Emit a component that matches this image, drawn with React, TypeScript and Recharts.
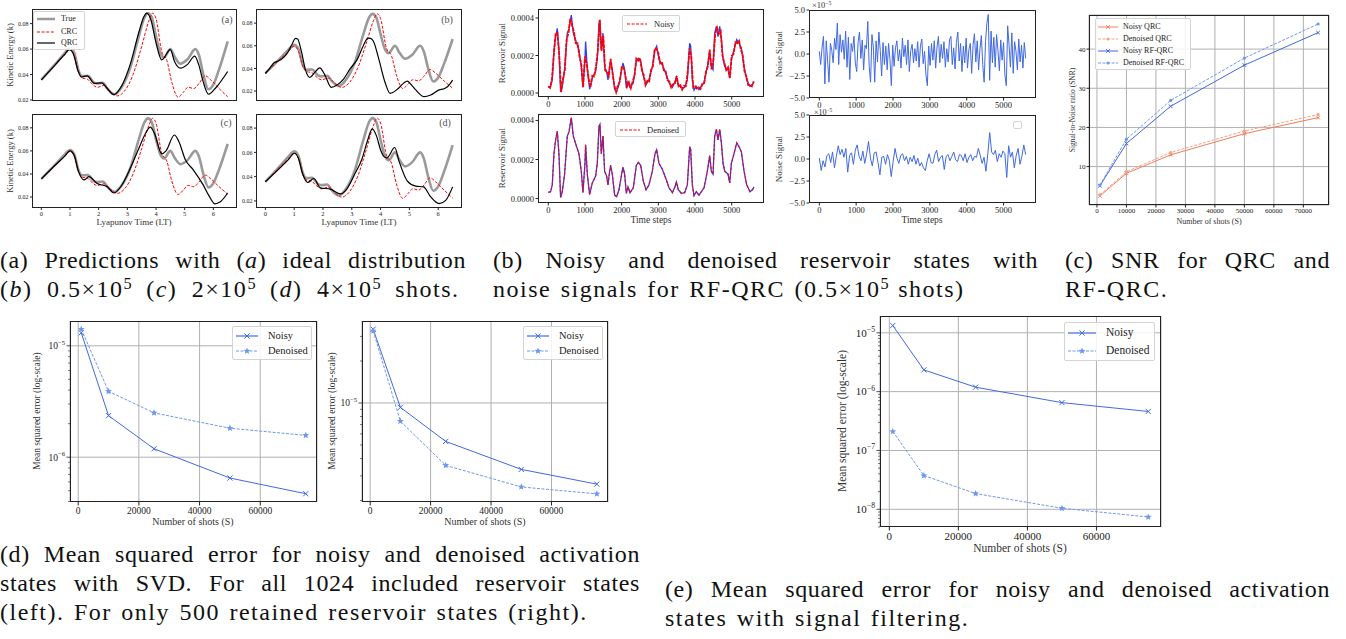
import React from 'react';
import { LineChart, Line, XAxis, YAxis, CartesianGrid, ReferenceLine } from 'recharts';

const SERIF = '"Liberation Serif", "Times New Roman", serif';

// ---------- (a) Kinetic energy predictions: [Lyapunov time, k] ----------
const TRUE_KE: [number, number][] = [
  [0, 0.0358], [0.5, 0.0485], [0.8, 0.0565], [1.0, 0.0608], [1.15, 0.057], [1.3, 0.043], [1.42, 0.0388],
  [1.62, 0.039], [1.85, 0.0335], [1.95, 0.033], [2.15, 0.0335], [2.3, 0.029], [2.55, 0.0245], [2.8, 0.03],
  [3.1, 0.045], [3.4, 0.07], [3.6, 0.085], [3.72, 0.0882], [3.85, 0.085], [4.0, 0.07], [4.15, 0.057],
  [4.28, 0.0535], [4.5, 0.06], [4.65, 0.054], [4.85, 0.0485], [5.1, 0.052], [5.37, 0.06], [5.5, 0.055],
  [5.65, 0.04], [5.83, 0.0284], [6.0, 0.032], [6.2, 0.044], [6.5, 0.066],
];
const CRC_KE: [number, number][] = [
  [0, 0.0358], [0.5, 0.048], [0.8, 0.055], [1.0, 0.0595], [1.15, 0.055], [1.3, 0.042], [1.45, 0.037],
  [1.6, 0.0365], [1.75, 0.033], [1.95, 0.03], [2.2, 0.0315], [2.4, 0.027], [2.65, 0.0232], [2.9, 0.027],
  [3.2, 0.04], [3.5, 0.062], [3.75, 0.082], [3.88, 0.0882], [4.0, 0.084], [4.2, 0.058], [4.38, 0.051],
  [4.55, 0.034], [4.77, 0.0222], [4.95, 0.026], [5.12, 0.03], [5.32, 0.029], [5.5, 0.033], [5.72, 0.039],
  [5.9, 0.036], [6.2, 0.029], [6.5, 0.0225],
];
const QRC_A: [number, number][] = [
  [0, 0.0358], [0.5, 0.048], [0.8, 0.0555], [0.98, 0.0595], [1.12, 0.056], [1.28, 0.043], [1.4, 0.038],
  [1.6, 0.039], [1.85, 0.033], [2.1, 0.0335], [2.3, 0.029], [2.52, 0.0242], [2.8, 0.031], [3.1, 0.048],
  [3.4, 0.073], [3.57, 0.085], [3.68, 0.0882], [3.82, 0.083], [4.0, 0.065], [4.2, 0.0515], [4.5, 0.0595],
  [4.65, 0.05], [4.85, 0.045], [5.1, 0.048], [5.35, 0.0545], [5.5, 0.047], [5.65, 0.034], [5.83, 0.0245],
  [6.1, 0.03], [6.5, 0.0424],
];
const QRC_B: [number, number][] = [
  [0, 0.0355], [0.15, 0.04], [0.3, 0.045], [0.45, 0.0465], [0.6, 0.049], [0.75, 0.053], [0.9, 0.06],
  [1.05, 0.0665], [1.12, 0.066], [1.25, 0.055], [1.4, 0.038], [1.54, 0.032], [1.7, 0.036], [1.89, 0.0405],
  [2.05, 0.035], [2.29, 0.0232], [2.5, 0.0255], [2.7, 0.03], [2.95, 0.04], [3.19, 0.048], [3.4, 0.06],
  [3.56, 0.0668], [3.65, 0.0665], [3.75, 0.064], [3.94, 0.048], [4.15, 0.028], [4.33, 0.018], [4.58, 0.0215],
  [4.8, 0.027], [4.93, 0.0288], [5.05, 0.026], [5.22, 0.021], [5.51, 0.015], [5.74, 0.0165], [6.03, 0.021],
  [6.2, 0.022], [6.32, 0.0238], [6.5, 0.0297],
];
const QRC_C: [number, number][] = [
  [0, 0.0357], [0.5, 0.048], [0.8, 0.055], [1.0, 0.06], [1.15, 0.056], [1.3, 0.042], [1.49, 0.0348],
  [1.66, 0.0377], [1.95, 0.0318], [2.3, 0.0289], [2.53, 0.0235], [2.8, 0.03], [3.05, 0.042], [3.4, 0.062],
  [3.65, 0.076], [3.8, 0.0806], [3.95, 0.075], [4.2, 0.0575], [4.35, 0.06], [4.64, 0.0738], [4.8, 0.068],
  [5.02, 0.0525], [5.3, 0.0436], [5.65, 0.0303], [5.85, 0.021], [6.06, 0.0141], [6.23, 0.0156], [6.5, 0.0235],
];
const QRC_D: [number, number][] = [
  [0, 0.0358], [0.5, 0.047], [0.8, 0.054], [1.01, 0.0593], [1.15, 0.055], [1.3, 0.042], [1.47, 0.0352],
  [1.68, 0.0385], [1.91, 0.0308], [2.26, 0.0297], [2.61, 0.0258], [2.8, 0.029], [3.1, 0.042], [3.36, 0.055],
  [3.55, 0.07], [3.71, 0.0794], [3.85, 0.074], [4.0, 0.062], [4.12, 0.0565], [4.22, 0.0555], [4.49, 0.064],
  [4.65, 0.052], [4.93, 0.0363], [5.22, 0.0322], [5.49, 0.0316], [5.74, 0.0233], [6.03, 0.0178], [6.26, 0.0205],
  [6.5, 0.0316],
];
const LT_TICKS = [0, 1, 2, 3, 4, 5, 6];
const KE_TICKS = [0.02, 0.04, 0.06, 0.08];

// ---------- (b) reservoir signal (units of 1e-4) and noise (units of 1e-5) ----------
const RES_CLEAN: [number, number][] = [
  [0, 0.32], [64, 0.35], [109, 0.7], [155, 2.3], [200, 3.0], [245, 3.45], [291, 2.3], [336, 0.05], [382, 0.35],
  [445, 1.25], [518, 3.2], [564, 3.4], [627, 4.15], [682, 3.2], [773, 2.65], [836, 2.3], [900, 1.4], [945, 0.3],
  [1000, 1.8], [1018, 2.75], [1064, 1.25], [1127, 0.2], [1200, 0.8], [1291, 1.15], [1336, 1.8], [1382, 3.7],
  [1409, 3.8], [1445, 2.3], [1491, 3.2], [1536, 1.4], [1591, 1.15], [1627, 0.7], [1673, 1.4], [1700, 1.7],
  [1745, 1.25], [1809, 0.18], [1864, 0.1], [1927, 0.45], [2000, 1.25], [2036, 1.6], [2082, 1.25], [2127, 0.27],
  [2173, 0.6], [2227, 0.3], [2318, 0.55], [2400, 1.7], [2454, 1.85], [2518, 1.7], [2591, 0.9], [2664, 0.45],
  [2745, 0.7], [2836, 1.4], [2909, 2.3], [2954, 2.5], [3018, 1.8], [3109, 1.5], [3200, 1.05], [3291, 0.55],
  [3382, 0.3], [3454, 0.6], [3491, 0.85], [3545, 0.45], [3627, 0.27], [3718, 0.3], [3791, 0.7], [3854, 2.65],
  [3882, 2.5], [3927, 0.7], [3973, 0.15], [4036, 0.35], [4109, 0.18], [4245, 0.55], [4336, 1.4], [4400, 2.2],
  [4445, 1.4], [4491, 1.25], [4536, 3.2], [4582, 3.55], [4627, 3.0], [4673, 3.55], [4718, 2.85], [4764, 1.8],
  [4809, 1.4], [4900, 1.25], [4945, 0.8], [4991, 1.8], [5063, 2.3], [5136, 2.85], [5200, 2.65], [5263, 2.4],
  [5336, 1.4], [5409, 0.7], [5500, 0.35], [5563, 0.45], [5609, 0.6],
];
const RES_NOISY_STEP = 50;
const RES_NOISY = [
  0.36, 0.28, 0.75, 2.0, 3.15, 3.2, 1.98, 0.05, 0.72, 1.22,
  2.85, 3.2, 3.98, 3.6, 3.25, 2.65, 2.66, 1.95, 1.55, 0.32,
  1.95, 1.55, 0.78, 0.3, 0.92, 0.88, 1.42, 2.25, 3.9, 2.25,
  3.05, 1.22, 1.12, 0.92, 1.82, 1.08, 0.4, 0.05, 0.42, 0.6,
  1.38, 1.38, 0.97, 0.35, 0.56, 0.26, 0.62, 0.9, 1.83, 1.72,
  1.86, 1.22, 0.97, 0.42, 0.66, 0.62, 1.22, 1.42, 2.35, 2.36,
  2.12, 1.58, 1.65, 1.2, 1.15, 0.68, 0.62, 0.3, 0.47, 0.49,
  0.9, 0.36, 0.42, 0.18, 0.38, 0.36, 1.12, 2.38, 1.92, 0.3,
  0.36, 0.24, 0.3, 0.22, 0.5, 0.53, 1.15, 1.43, 2.32, 1.26,
  1.77, 3.15, 3.48, 3.15, 3.3, 1.98, 1.6, 1.22, 1.37, 0.8,
  1.98, 2.08, 2.7, 2.66, 2.78, 2.32, 2.02, 1.14, 0.88, 0.42,
  0.43, 0.36, 0.62,
];
const STEPS_END = 5600;
const NOISE_NOISY = [
  0.3, -1.2, 0.8, 2.0, -3.4, 1.5, -0.8, -3.2, 1.2, 0.4,
  -1.0, 1.8, 0.5, 3.5, -1.2, 2.2, 0.2, 1.6, -0.6, 2.6,
  -1.5, 1.9, -2.9, 1.2, 0.3, 2.0, -1.0, -2.0, 1.4, 2.5,
  -0.5, 1.6, -1.8, 1.0, 0.6, 3.7, -1.4, -3.2, 2.2, 0.8,
  -3.2, 1.5, -0.9, 2.5, 0.4, -2.5, 1.3, -1.2, 0.9, -1.8,
  1.2, -0.6, -3.6, 1.0, -1.4, 0.7, 1.5, -0.8, 0.5, -1.6,
  1.8, -0.3, 1.0, -1.2, 1.6, -2.0, 0.4, 1.1, -1.0, 0.6,
  -0.8, 1.4, -1.5, 0.9, 1.7, -1.1, 0.3, -2.4, -3.6, 0.9,
  -1.3, 1.2, -0.7, 1.5, -1.6, 0.8, 2.0, -1.0, 1.1, -0.5,
  1.4, -1.5, 0.6, -0.9, 1.6, 2.0, -1.2, 0.7, -1.7, 1.3,
  2.5, -0.8, 1.2, -2.0, 0.9, -1.0, 1.8, -1.6, 0.5, 1.2,
  -2.2, 1.0, 2.3, -0.9, 1.5, -1.8, 0.6, 2.1, -1.2, -3.2,
  1.4, 3.5, 4.5, -3.0, 2.6, -1.0, 1.9, -1.5, 2.2, 0.4,
  -1.9, 1.6, -0.7, 1.3, -2.4, -3.6, 3.2, 1.0, -1.5, 2.4,
  -2.2, 1.4, 0.3, -1.8, 1.7, -0.9, 1.0, -1.6, 1.3, -0.5,
];
const NOISE_DENOISED = [
  0.1, -1.3, -0.2, -0.9, 0.4, 0.6, -0.4, 0.8, -1.0, 0.3,
  1.5, 0.5, 1.1, 0.2, 1.2, -1.5, 0.4, 0.7, -0.6, 1.0,
  1.6, 0.3, -0.2, 0.9, -0.5, 0.6, 2.0, 0.1, -0.8, 0.7,
  0.8, -0.4, -1.8, 0.2, 0.3, -0.6, 0.5, -0.2, -2.0, -0.3,
  1.2, 0.1, -0.5, 0.4, 0.6, -0.2, 0.3, -0.6, 0.2, -0.3,
  0.4, -0.6, 0.1, -0.8, -0.4, -1.0, -1.3, -0.2, 0.6, -0.4,
  -0.5, 0.5, 1.0, -0.3, 0.2, 0.4, -1.2, 0.3, 0.5, -0.2,
  0.3, 0.8, -0.1, -0.3, 0.5, 0.4, -0.2, 0.6, -0.4, 0.2,
  0.5, -0.2, 0.3, 0.2, 1.2, 0.4, -0.5, 0.2, -1.4, 0.6,
  3.0, 0.8, 0.5, 1.0, -0.3, 0.6, 0.2, 0.9, 0.6, -2.1,
  1.5, 0.2, 0.8, -1.0, 0.4, 1.2, -0.6, 0.3, 1.6, 0.5,
];
const STEP_TICKS = [0, 1000, 2000, 3000, 4000, 5000];

// ---------- (c) SNR ----------
const SHOTS = [1000, 10000, 25000, 50000, 75000];
const SNR_NOISY_QRC = [2.5, 8.3, 13.0, 18.4, 22.5];
const SNR_DENOISED_QRC = [2.8, 8.7, 13.6, 19.1, 23.3];
const SNR_NOISY_RF = [5.1, 15.9, 25.4, 35.9, 44.2];
const SNR_DENOISED_RF = [5.3, 17.0, 26.9, 37.7, 46.4];
const SHOT_TICKS_C = [0, 10000, 20000, 30000, 40000, 50000, 60000, 70000];
const SNR_TICKS = [10, 20, 30, 40];

// ---------- (d), (e) MSE ----------
const MSE_SVD_ALL_NOISY = [1.31e-5, 2.36e-6, 1.19e-6, 6.5e-7, 4.7e-7];
const MSE_SVD_ALL_DENOISED = [1.41e-5, 3.9e-6, 2.5e-6, 1.82e-6, 1.57e-6];
const MSE_SVD_500_NOISY = [3.38e-5, 9.3e-6, 5.3e-6, 3.34e-6, 2.62e-6];
const MSE_SVD_500_DENOISED = [3.29e-5, 7.4e-6, 3.57e-6, 2.5e-6, 2.23e-6];
const MSE_FILT_NOISY = [1.33e-5, 2.34e-6, 1.19e-6, 6.5e-7, 4.6e-7];
const MSE_FILT_DENOISED = [2.1e-7, 3.75e-8, 1.85e-8, 1.04e-8, 7.4e-9];
const SHOT_TICKS_D = [0, 20000, 40000, 60000];

// ---------- colours ----------
const C_NOISY_QRC = '#f27d5a';
const C_DEN_QRC = '#f3a286';
const C_NOISY_RF = '#4169e1';
const C_DEN_RF = '#6d98ee';
const C_NOISE = '#4169e1';

type F = { x0: number; y0: number; x1: number; y1: number };
const A1: F = { x0: 32, y0: 9, x1: 237, y1: 101 };
const A2: F = { x0: 256, y0: 9, x1: 462, y1: 101 };
const A3: F = { x0: 32, y0: 114, x1: 237, y1: 208 };
const A4: F = { x0: 256, y0: 114, x1: 462, y1: 208 };
const B1: F = { x0: 538, y0: 9, x1: 764, y1: 97 };
const B2: F = { x0: 538, y0: 114, x1: 764, y1: 203 };
const N1: F = { x0: 809, y0: 10, x1: 1036, y1: 98 };
const N2: F = { x0: 809, y0: 115, x1: 1036, y1: 203 };
const CF: F = { x0: 1089, y0: 15, x1: 1329, y1: 205 };
const D1: F = { x0: 70, y0: 321, x1: 317, y1: 502 };
const D2: F = { x0: 362, y0: 321, x1: 608, y1: 502 };
const EF: F = { x0: 880, y0: 316, x1: 1161, y1: 527 };

const tk = (fs: number) => ({ fontSize: fs, fill: '#222', fontFamily: SERIF });
const toPts = (arr: [number, number][]) => arr.map(([t, v]) => ({ t, v }));
const seq = (vals: number[], step: number) => vals.map((v, i) => ({ t: i * step, v }));

function Frame({ f }: { f: F }) {
  return (
    <div
      style={{
        position: 'absolute', left: f.x0, top: f.y0, width: f.x1 - f.x0, height: f.y1 - f.y0,
        border: '1px solid #222', boxSizing: 'border-box', pointerEvents: 'none',
      }}
    />
  );
}

function ChartAt({ f, L, B, data, children }: any) {
  const T = 8, R = 4;
  return (
    <div style={{ position: 'absolute', left: f.x0 - L, top: f.y0 - T }}>
      <LineChart
        width={f.x1 - f.x0 + L + R}
        height={f.y1 - f.y0 + T + B}
        margin={{ top: T, right: R, left: 0, bottom: 0 }}
        data={data}
      >
        {children}
      </LineChart>
    </div>
  );
}

function Txt({ x, y, size, rot, color = '#222', anchor = 'middle', children }: any) {
  const tx = anchor === 'middle' ? '-50%' : anchor === 'end' ? '-100%' : '0%';
  return (
    <div
      style={{
        position: 'absolute', left: x, top: y, fontSize: size, fontFamily: SERIF, color,
        whiteSpace: 'nowrap', lineHeight: 1,
        transform: `translate(${tx}, -50%)${rot ? ` rotate(${rot}deg)` : ''}`,
      }}
    >
      {children}
    </div>
  );
}

function markerEl(kind: string, cx: number, cy: number, s: number, color: string, key?: any) {
  if (cx == null || cy == null || isNaN(cx) || isNaN(cy)) return <g key={key} />;
  if (kind === 'x') {
    return (
      <path key={key} d={`M${cx - s},${cy - s}L${cx + s},${cy + s}M${cx - s},${cy + s}L${cx + s},${cy - s}`}
        stroke={color} strokeWidth={1} fill="none" />
    );
  }
  if (kind === 'o') return <circle key={key} cx={cx} cy={cy} r={s} fill={color} stroke="none" />;
  const pts: string[] = [];
  for (let k = 0; k < 10; k++) {
    const r = k % 2 === 0 ? s : s * 0.45;
    const a = -Math.PI / 2 + (k * Math.PI) / 5;
    pts.push(`${cx + r * Math.cos(a)},${cy + r * Math.sin(a)}`);
  }
  return <polygon key={key} points={pts.join(' ')} fill={color} stroke="none" />;
}
const dotFn = (kind: string, s: number, color: string) => (p: any) =>
  markerEl(kind, p.cx, p.cy, s, color, `m-${p.index}`);

type LItem = { label: string; color: string; dash?: string; width?: number; marker?: string; ms?: number };
function LegendBox({ x, y, w, h, items, fs, rows, lx0, lx1, tx }: any) {
  return (
    <div
      style={{
        position: 'absolute', left: x, top: y, width: w, height: h, border: '1px solid #d4d4d4',
        borderRadius: 2, background: 'rgba(255,255,255,0.85)', boxSizing: 'border-box',
      }}
    >
      {(items as LItem[]).map((it, i) => {
        const cy = rows[i];
        return (
          <React.Fragment key={i}>
            <svg style={{ position: 'absolute', left: 0, top: cy - 6, overflow: 'visible' }} width={w} height={12}>
              <line x1={lx0} x2={lx1} y1={6} y2={6} stroke={it.color} strokeWidth={it.width ?? 1}
                strokeDasharray={it.dash} />
              {it.marker ? markerEl(it.marker, (lx0 + lx1) / 2, 6, it.ms ?? 2, it.color) : null}
            </svg>
            <div
              style={{
                position: 'absolute', left: tx, top: cy, transform: 'translateY(-50%)', fontSize: fs,
                fontFamily: SERIF, whiteSpace: 'nowrap', lineHeight: 1, color: '#222',
              }}
            >
              {it.label}
            </div>
          </React.Fragment>
        );
      })}
    </div>
  );
}

const LogTick = (fs: number, tickSize: number, tickMargin: number) => (props: any) => {
  const { x, y, payload } = props;
  const v = payload.value;
  const lg = Math.log10(v);
  const e = Math.round(lg);
  const major = Math.abs(lg - e) < 1e-6;
  const ax = x + tickSize + tickMargin;
  return (
    <g>
      <line x1={ax} x2={ax - (major ? 3.5 : 2)} y1={y} y2={y} stroke="#222" strokeWidth={major ? 0.8 : 0.6} />
      {major ? (
        <text x={ax - 5} y={y} dy="0.35em" textAnchor="end" fontSize={fs} fontFamily={SERIF} fill="#222">
          10
          <tspan dy={-fs * 0.45} fontSize={fs * 0.7}>{`\u2212${-e}`}</tspan>
        </text>
      ) : null}
    </g>
  );
};

const logTicks = (lo: number, hi: number) => {
  const out: number[] = [];
  for (let e = Math.floor(Math.log10(lo)); e <= Math.ceil(Math.log10(hi)); e++) {
    for (let k = 1; k < 10; k++) {
      const v = k * Math.pow(10, e);
      if (v >= lo && v <= hi) out.push(v);
    }
  }
  return out;
};

function KEPanel({ f, qrc, dom, letter, lx, ly, showX }: any) {
  return (
    <>
      <ChartAt f={f} L={24} B={16}>
        <XAxis type="number" dataKey="t" domain={[-0.325, 6.825]} ticks={LT_TICKS} allowDataOverflow
          axisLine={false} tickSize={2} tickMargin={1} interval={0} height={16}
          tickLine={{ stroke: '#222' }} tick={showX ? tk(6.5) : false} />
        <YAxis type="number" domain={dom} ticks={KE_TICKS} allowDataOverflow axisLine={false}
          tickSize={2} tickMargin={1.5} interval={0} width={24} tickLine={{ stroke: '#222' }}
          tick={tk(6)} tickFormatter={(v: number) => v.toFixed(2)} />
        <Line data={toPts(TRUE_KE)} dataKey="v" type="monotone" stroke="#9a9a9a" strokeWidth={2.6}
          dot={false} isAnimationActive={false} />
        <Line data={toPts(CRC_KE)} dataKey="v" type="monotone" stroke="#ff0000" strokeWidth={1}
          strokeDasharray="3 1.6" dot={false} isAnimationActive={false} />
        <Line data={toPts(qrc)} dataKey="v" type="monotone" stroke="#000" strokeWidth={1.2}
          dot={false} isAnimationActive={false} />
      </ChartAt>
      <Frame f={f} />
      <Txt x={lx} y={ly} size={10} color="#555">({letter})</Txt>
    </>
  );
}

function ResPanel({ f, dom, top }: any) {
  const clean = toPts(RES_CLEAN);
  return (
    <>
      <ChartAt f={f} L={42} B={16}>
        <XAxis type="number" dataKey="t" domain={[-280, 5880]} ticks={STEP_TICKS} allowDataOverflow
          axisLine={false} tickSize={2.5} tickMargin={1.5} interval={0} height={16}
          tickLine={{ stroke: '#222' }} tick={tk(8.5)} />
        <YAxis type="number" domain={dom} ticks={[0, 2, 4]} allowDataOverflow axisLine={false}
          tickSize={2.5} tickMargin={1.5} interval={0} width={42} tickLine={{ stroke: '#222' }}
          tick={tk(8.5)} tickFormatter={(v: number) => (v / 1e4).toFixed(4)} />
        <Line data={clean} dataKey="v" type="linear" stroke="#2f3cf0" strokeWidth={1.3}
          dot={false} isAnimationActive={false} />
        {top ? (
          <Line data={seq(RES_NOISY, RES_NOISY_STEP)} dataKey="v" type="linear" stroke="#ff0000"
            strokeWidth={1.8} strokeDasharray="4 0.8" dot={false} isAnimationActive={false} />
        ) : (
          <Line data={clean} dataKey="v" type="linear" stroke="#ff0000" strokeWidth={1.1}
            strokeDasharray="2.5 2" dot={false} isAnimationActive={false} />
        )}
      </ChartAt>
      <Frame f={f} />
    </>
  );
}

function NoisePanel({ f, vals, width }: any) {
  const d = seq(vals, STEPS_END / (vals.length - 1));
  return (
    <>
      <ChartAt f={f} L={28} B={16}>
        <XAxis type="number" dataKey="t" domain={[-280, 5880]} ticks={STEP_TICKS} allowDataOverflow
          axisLine={false} tickSize={2.5} tickMargin={1.5} interval={0} height={16}
          tickLine={{ stroke: '#222' }} tick={tk(8.5)} />
        <YAxis type="number" domain={[-5, 5]} ticks={[-5, -2.5, 0, 2.5, 5]} allowDataOverflow axisLine={false}
          tickSize={2.5} tickMargin={1.5} interval={0} width={28} tickLine={{ stroke: '#222' }}
          tick={tk(8.5)} tickFormatter={(v: number) => (v < 0 ? '\u2212' : '') + Math.abs(v).toFixed(1)} />
        <Line data={d} dataKey="v" type="linear" stroke={C_NOISE} strokeWidth={width}
          dot={false} isAnimationActive={false} />
      </ChartAt>
      <Frame f={f} />
    </>
  );
}

function MsePanel({ f, noisy, den, dom, fs, L, B, legend }: any) {
  const rows = SHOTS.map((s, i) => ({ s, n: noisy[i], d: den[i] }));
  const ticks = logTicks(dom[0], dom[1]);
  const majors = ticks.filter((v) => Math.abs(Math.log10(v) - Math.round(Math.log10(v))) < 1e-6);
  return (
    <>
      <ChartAt f={f} L={L} B={B} data={rows}>
        <CartesianGrid horizontal={false} stroke="#b0b0b0" strokeWidth={1} />
        {majors.map((v) => (
          <ReferenceLine key={v} y={v} stroke="#b0b0b0" strokeWidth={1} />
        ))}
        <XAxis type="number" dataKey="s" domain={[-2700, 78700]} ticks={SHOT_TICKS_D} allowDataOverflow
          axisLine={false} tickSize={3.5} tickMargin={1.5} interval={0} height={B}
          tickLine={{ stroke: '#222' }} tick={tk(fs)} />
        <YAxis type="number" scale="log" domain={dom} ticks={ticks} allowDataOverflow axisLine={false}
          tickSize={3.5} tickMargin={1.5} interval={0} width={L} tickLine={false}
          tick={LogTick(fs, 3.5, 1.5)} />
        <Line dataKey="n" type="linear" stroke={C_NOISY_RF} strokeWidth={1}
          dot={dotFn('x', 2.6, C_NOISY_RF)} isAnimationActive={false} />
        <Line dataKey="d" type="linear" stroke={C_DEN_RF} strokeWidth={1} strokeDasharray="3 1.5"
          dot={dotFn('star', 3.6, C_DEN_RF)} isAnimationActive={false} />
      </ChartAt>
      <Frame f={f} />
      <LegendBox {...legend}
        items={[
          { label: 'Noisy', color: C_NOISY_RF, width: 1.2, marker: 'x', ms: 2.6 },
          { label: 'Denoised', color: C_DEN_RF, dash: '3 1.5', marker: 'star', ms: 3.6 },
        ]} />
    </>
  );
}

function Cap({ x, y, w, lines }: any) {
  return (
    <div style={{
      position: 'absolute', left: x, top: y, width: w, fontSize: 24, lineHeight: '29px', fontFamily: SERIF,
      color: '#111',
    }}>
      {lines.map((l: any, i: number) => (
        <div key={i} style={{
          textAlign: l.j ? 'justify' : 'left', textAlignLast: l.j ? 'justify' : 'auto',
          letterSpacing: l.j ? '0.6px' : '1.5px', wordSpacing: l.j ? '0px' : `${l.ws ?? 2}px`,
          whiteSpace: l.j ? 'normal' : 'nowrap',
        } as any}>
          {l.c}
        </div>
      ))}
    </div>
  );
}
const sup = (s: string) => <sup style={{ fontSize: '0.68em', lineHeight: 0, verticalAlign: '0.5em', letterSpacing: 0 }}>{s}</sup>;

export default function App() {
  const snrRows = SHOTS.map((s, i) => ({
    s, nq: SNR_NOISY_QRC[i], dq: SNR_DENOISED_QRC[i], nr: SNR_NOISY_RF[i], dr: SNR_DENOISED_RF[i],
  }));
  return (
    <div style={{ position: 'absolute', left: 0, top: 0, width: 1346, height: 639, background: '#fff', overflow: 'hidden', fontFamily: SERIF }}>
      {/* ---------------- (a) ---------------- */}
      <KEPanel f={A1} qrc={QRC_A} dom={[0.0192, 0.0915]} letter="a" lx={227} ly={20} showX={false} />
      <KEPanel f={A2} qrc={QRC_B} dom={[0.0112, 0.0925]} letter="b" lx={447} ly={20} showX={false} />
      <KEPanel f={A3} qrc={QRC_C} dom={[0.0105, 0.092]} letter="c" lx={226} ly={123} showX={true} />
      <KEPanel f={A4} qrc={QRC_D} dom={[0.0142, 0.0916]} letter="d" lx={445} ly={123} showX={true} />
      <Txt x={10} y={55} size={8.5} rot={-90} color="#333">Kinetic Energy (k)</Txt>
      <Txt x={10} y={161} size={8.5} rot={-90} color="#333">Kinetic Energy (k)</Txt>
      <Txt x={134} y={222} size={9} color="#333">Lyapunov Time (LT)</Txt>
      <Txt x={359} y={222} size={9} color="#333">Lyapunov Time (LT)</Txt>
      <LegendBox x={33} y={11} w={52} h={39} fs={8} rows={[7, 19.5, 31]} lx0={3} lx1={21} tx={27}
        items={[
          { label: 'True', color: '#9a9a9a', width: 2.5 },
          { label: 'CRC', color: '#ff0000', dash: '3 1.6' },
          { label: 'QRC', color: '#000', width: 1.2 },
        ]} />

      {/* ---------------- (b) ---------------- */}
      <ResPanel f={B1} dom={[-0.213, 4.48]} top={true} />
      <ResPanel f={B2} dom={[-0.227, 4.33]} top={false} />
      <Txt x={502} y={53} size={9} rot={-90} color="#333">Reservoir Signal</Txt>
      <Txt x={502} y={158} size={9} rot={-90} color="#333">Reservoir Signal</Txt>
      <Txt x={651} y={221} size={9.5} color="#333">Time steps</Txt>
      <LegendBox x={622} y={15} w={58} h={17} fs={8.5} rows={[8]} lx0={4} lx1={24} tx={31}
        items={[{ label: 'Noisy', color: '#ff0000', dash: '3 1.5', width: 1.2 }]} />
      <LegendBox x={615} y={121} w={71} h={16} fs={8.5} rows={[7.5]} lx0={4} lx1={24} tx={31}
        items={[{ label: 'Denoised', color: '#ff0000', dash: '3 1.5', width: 1.2 }]} />
      <NoisePanel f={N1} vals={NOISE_NOISY} width={1} />
      <NoisePanel f={N2} vals={NOISE_DENOISED} width={1} />
      <Txt x={779} y={54} size={9} rot={-90} color="#333">Noise Signal</Txt>
      <Txt x={779} y={159} size={9} rot={-90} color="#333">Noise Signal</Txt>
      <Txt x={922} y={221} size={9.5} color="#333">Time steps</Txt>
      <Txt x={812} y={5} size={8.5} anchor="start" color="#333">×10{sup('\u22125')}</Txt>
      <Txt x={814} y={112.5} size={8} anchor="start" color="#333">×10{sup('\u22125')}</Txt>
      <LegendBox x={1013} y={121} w={9} h={8} fs={8} rows={[]} lx0={0} lx1={0} tx={0} items={[]} />

      {/* ---------------- (c) ---------------- */}
      <ChartAt f={CF} L={20} B={14} data={snrRows}>
        <CartesianGrid stroke="#b0b0b0" strokeWidth={1} />
        <XAxis type="number" dataKey="s" domain={[-2700, 78700]} ticks={SHOT_TICKS_C} allowDataOverflow
          axisLine={false} tickSize={2.5} tickMargin={1} interval={0} height={14}
          tickLine={{ stroke: '#222' }} tick={tk(7)} />
        <YAxis type="number" domain={[0.2, 48.7]} ticks={SNR_TICKS} allowDataOverflow axisLine={false}
          tickSize={2.5} tickMargin={1} interval={0} width={20} tickLine={{ stroke: '#222' }} tick={tk(7)} />
        <Line dataKey="nq" type="linear" stroke={C_NOISY_QRC} strokeWidth={1}
          dot={dotFn('x', 1.8, C_NOISY_QRC)} isAnimationActive={false} />
        <Line dataKey="dq" type="linear" stroke={C_DEN_QRC} strokeWidth={1} strokeDasharray="3 1.5"
          dot={dotFn('o', 1.6, C_DEN_QRC)} isAnimationActive={false} />
        <Line dataKey="nr" type="linear" stroke={C_NOISY_RF} strokeWidth={1}
          dot={dotFn('x', 1.8, C_NOISY_RF)} isAnimationActive={false} />
        <Line dataKey="dr" type="linear" stroke={C_DEN_RF} strokeWidth={1} strokeDasharray="3 1.5"
          dot={dotFn('o', 1.6, C_DEN_RF)} isAnimationActive={false} />
      </ChartAt>
      <Frame f={CF} />
      <Txt x={1073} y={110} size={7.5} rot={-90} color="#333">Signal-to-Noise ratio (SNR)</Txt>
      <Txt x={1209} y={222} size={8} color="#333">Number of shots (S)</Txt>
      <LegendBox x={1095} y={18} w={96} h={52} fs={8} rows={[8, 19.7, 32, 44]} lx0={2} lx1={22} tx={27}
        items={[
          { label: 'Noisy QRC', color: C_NOISY_QRC, marker: 'x', ms: 1.8 },
          { label: 'Denoised QRC', color: C_DEN_QRC, dash: '3 1.5', marker: 'o', ms: 1.6 },
          { label: 'Noisy RF-QRC', color: C_NOISY_RF, marker: 'x', ms: 1.8 },
          { label: 'Denoised RF-QRC', color: C_DEN_RF, dash: '3 1.5', marker: 'o', ms: 1.6 },
        ]} />

      {/* ---------------- (d) ---------------- */}
      <MsePanel f={D1} noisy={MSE_SVD_ALL_NOISY} den={MSE_SVD_ALL_DENOISED} dom={[3.96e-7, 1.67e-5]}
        fs={9.5} L={30} B={18}
        legend={{ x: 232, y: 326, w: 80, h: 34, fs: 10.5, rows: [8.5, 24], lx0: 3, lx1: 25, tx: 35 }} />
      <Txt x={38} y={411} size={9.5} rot={-90} color="#333">Mean squared error (log-scale)</Txt>
      <Txt x={193} y={522} size={10} color="#333">Number of shots (S)</Txt>
      <MsePanel f={D2} noisy={MSE_SVD_500_NOISY} den={MSE_SVD_500_DENOISED} dom={[1.95e-6, 3.87e-5]}
        fs={9.5} L={30} B={18}
        legend={{ x: 523, y: 326, w: 80, h: 34, fs: 10.5, rows: [8.5, 24], lx0: 3, lx1: 25, tx: 35 }} />
      <Txt x={333} y={411} size={9.5} rot={-90} color="#333">Mean squared error (log-scale)</Txt>
      <Txt x={485} y={522} size={10} color="#333">Number of shots (S)</Txt>

      {/* ---------------- (e) ---------------- */}
      <MsePanel f={EF} noisy={MSE_FILT_NOISY} den={MSE_FILT_DENOISED} dom={[5.0e-9, 1.93e-5]}
        fs={11} L={34} B={20}
        legend={{ x: 1064, y: 322, w: 91, h: 39, fs: 11.5, rows: [10.3, 28], lx0: 3, lx1: 31, tx: 41 }} />
      <Txt x={843} y={421} size={11.5} rot={-90} color="#333">Mean squared error (log-scale)</Txt>
      <Txt x={1020} y={549} size={11.5} color="#333">Number of shots (S)</Txt>

      {/* ---------------- captions ---------------- */}
      <Cap x={0} y={246} w={466} lines={[
        { c: <>(a) Predictions with (<i>a</i>) ideal distribution</>, j: true },
        { c: <>(<i>b</i>) 0.5×10{sup('5')} (<i>c</i>) 2×10{sup('5')} (<i>d</i>) 4×10{sup('5')} shots.</>, ws: 7 },
      ]} />
      <Cap x={493} y={246} w={545} lines={[
        { c: <>(b) Noisy and denoised reservoir states with</>, j: true },
        { c: <>noise signals for RF-QRC (0.5×10{sup('5')} shots)</> },
      ]} />
      <Cap x={1065} y={246} w={265} lines={[
        { c: <>(c) SNR for QRC and</>, j: true },
        { c: <>RF-QRC.</> },
      ]} />
      <Cap x={0} y={540} w={640} lines={[
        { c: <>(d) Mean squared error for noisy and denoised activation</>, j: true },
        { c: <>states with SVD. For all 1024 included reservoir states</>, j: true },
        { c: <>(left). For only 500 retained reservoir states (right).</> },
      ]} />
      <Cap x={665} y={575} w={665} lines={[
        { c: <>(e) Mean squared error for noisy and denoised activation</>, j: true },
        { c: <>states with signal filtering.</> },
      ]} />
    </div>
  );
}
